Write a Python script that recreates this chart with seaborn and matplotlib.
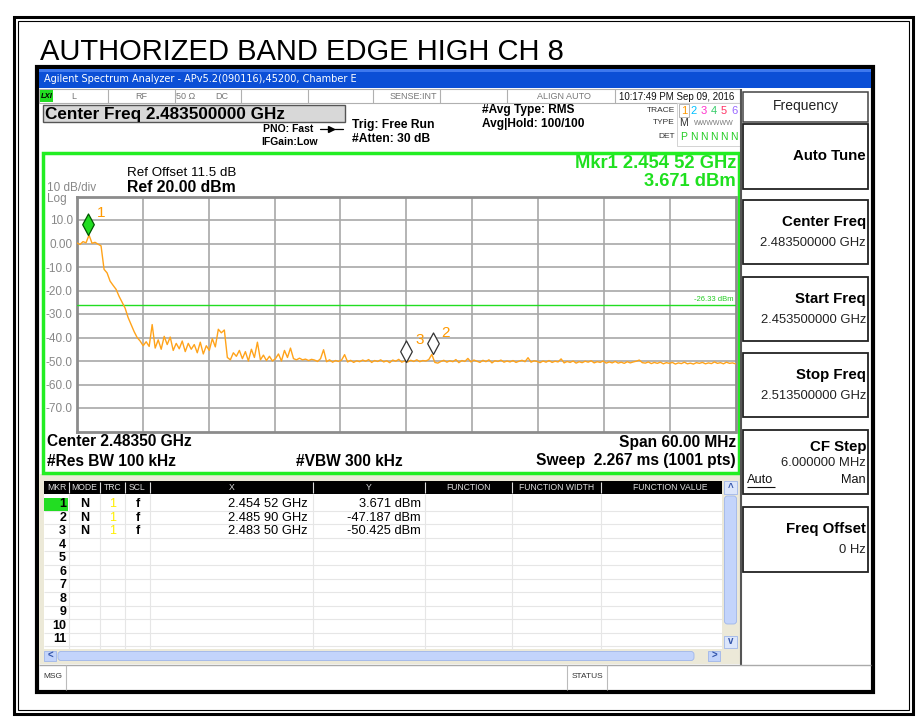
import numpy as np
import pandas as pd
import matplotlib
matplotlib.use("Agg")
import matplotlib.pyplot as plt
from matplotlib.path import Path
from matplotlib.patches import Rectangle, FancyBboxPatch
import seaborn as sns

# ---------------- DATA ----------------
title = "AUTHORIZED BAND EDGE HIGH CH 8"
start_ghz = 2.4535
stop_ghz = 2.5135
ref_level = 20.0
bottom_level = -80.0
threshold_dbm = -26.33
ytick_values = [10, 0, -10, -20, -30, -40, -50, -60, -70]
ytick_labels = ["10.0", "0.00", "-10.0", "-20.0", "-30.0", "-40.0", "-50.0", "-60.0", "-70.0"]

trace_levels = [
    0.2, -0.4, 0.8, 0.3, 3.6, 0.1, 0.5, -0.3, -1.0, -11.0,
    -12.5, -16.0, -17.8, -19.5, -22.5, -25.0, -27.5, -31.5, -34.5, -37.5,
    -40.0, -41.5, -43.5, -41.8, -43.8, -34.5, -44.5, -41.0, -45.0, -39.5,
    -43.0, -39.8, -45.5, -42.5, -44.8, -41.5, -46.0, -42.5, -45.0, -43.0,
    -46.5, -42.0, -47.0, -43.5, -45.5, -40.5, -44.0, -36.5, -38.0, -36.8,
    -48.5, -49.5, -46.5, -48.0, -45.5, -49.0, -46.0, -50.0, -45.0, -48.5,
    -42.0, -49.5, -47.5, -49.8, -48.0, -50.0, -49.0, -47.0, -50.0, -45.5,
    -48.5, -44.5, -49.0, -49.5, -48.8, -49.5, -49.2, -49.8, -49.3, -49.6,
    -50.2, -49.0, -45.2, -50.3, -49.5, -50.5, -49.8, -50.2, -49.6, -47.3,
    -50.4, -49.7, -50.6, -49.9, -50.3, -49.6, -50.1, -49.4, -50.6, -49.8,
    -50.2, -49.5, -50.4, -49.9, -50.7, -49.6, -50.1, -49.3, -50.5, -50.0,
    -50.4, -49.7, -50.2, -49.5, -50.3, -49.8, -50.0, -49.4, -47.2, -50.6,
    -50.9, -50.2, -49.7, -50.5, -49.9, -50.3, -49.4, -50.7, -49.8, -50.2,
    -48.9, -50.4, -49.6, -50.1, -50.6, -49.7, -50.3, -49.5, -50.8, -49.9,
    -50.2, -49.6, -50.5, -50.0, -50.4, -49.8, -50.6, -50.1, -49.7, -50.3,
    -48.6, -50.5, -49.9, -50.2, -50.7, -50.0, -50.5, -49.8, -50.6, -50.1,
    -50.4, -49.1, -50.8, -50.2, -50.6, -50.0, -50.9, -50.3, -50.7, -50.1,
    -50.5, -49.9, -50.8, -50.3, -50.6, -50.0, -50.9, -50.4, -50.8, -50.2,
    -50.9, -50.5, -51.0, -50.3, -50.8, -50.4, -50.1, -49.6, -50.7, -50.9,
    -50.4, -51.1, -50.6, -51.0, -50.5, -51.2, -50.7, -51.0, -50.6, -51.3,
    -50.8, -51.1, -50.5, -51.2, -50.9, -51.3, -50.7, -51.0, -50.6, -51.2,
    -50.8, -51.1, -50.4, -51.0, -50.7, -51.2, -50.5, -51.0, -50.8, -51.2,
]

marker_ids = [1, 2, 3]
marker_freqs = [2.45452, 2.48590, 2.48350]
marker_levels = [3.671, -47.187, -50.425]

table_headers = ["MKR", "MODE", "TRC", "SCL", "X", "Y", "FUNCTION", "FUNCTION WIDTH", "FUNCTION VALUE"]
softkeys = [("Center Freq", "2.483500000 GHz"),
            ("Start Freq", "2.453500000 GHz"),
            ("Stop Freq", "2.513500000 GHz")]

# ---------------- STYLE ----------------
sns.set_theme(style="white")
plt.rcParams['font.family'] = ['Liberation Sans', 'DejaVu Sans']

W, H = 923, 719
fig = plt.figure(figsize=(W / 100, H / 100), dpi=100)
fig.patch.set_facecolor("white")

ui = fig.add_axes([0, 0, 1, 1])
ui.set_xlim(0, W)
ui.set_ylim(H, 0)
ui.axis('off')


def rect(x0, y0, x1, y1, fc="none", ec="none", lw=1.0, z=1):
    ui.add_patch(Rectangle((x0, y0), x1 - x0, y1 - y0, facecolor=fc, edgecolor=ec, lw=lw, zorder=z))


def txt(x, y, s, size=8, ha="left", va="center", color="black", weight="normal", z=5, **kw):
    ui.text(x, y, s, fontsize=size, ha=ha, va=va, color=color, fontweight=weight, zorder=z, **kw)


def hline(x0, x1, y, color="#999999", lw=1.0, z=2):
    ui.plot([x0, x1], [y, y], color=color, lw=lw, zorder=z, solid_capstyle="butt")


def vline(x, y0, y1, color="#999999", lw=1.0, z=2):
    ui.plot([x, x], [y0, y1], color=color, lw=lw, zorder=z, solid_capstyle="butt")


# outer document borders
rect(14, 17, 913, 714, ec="black", lw=2.2)
rect(18, 21, 909, 710, ec="black", lw=0.8)

# title
txt(40, 60, title, size=21, va="baseline")

# window frame
rect(37, 67, 873, 692, fc="white", ec="black", lw=3, z=1)
rect(39, 69, 871, 88, fc="#0b4fd6", ec="none", z=2)
rect(39, 69, 871, 72, fc="#3d78ee", ec="none", z=2)
txt(44, 79, "Agilent Spectrum Analyzer - APv5.2(090116),45200, Chamber E", size=7,
    color="white", family=["DejaVu Sans"])

# status row
rect(39, 89, 740, 103, fc="white", ec="#b0b0b0", lw=0.8)
rect(40, 90, 53, 102, fc="#22dd22", ec="none", z=3)
txt(46.5, 96, "LXI", size=5.5, ha="center", weight="bold", style="italic")
for xs in [108, 175, 241, 308, 373, 440, 507, 615]:
    vline(xs, 89, 103, color="#b0b0b0", lw=0.8)
status_items = [(74, "L"), (141, "RF"), (186, "50 Ω"), (222, "DC"), (413, "SENSE:INT"), (564, "ALIGN AUTO")]
for xs, s in status_items:
    txt(xs, 96.5, s, size=6.5, ha="center", color="#777777")
txt(677, 96.5, "10:17:49 PM Sep 09, 2016", size=7, ha="center", color="#111111")

# center freq box
rect(43, 105, 345, 122, fc="#d8d8d8", ec="#555555", lw=1)
txt(45, 114, "Center Freq 2.483500000 GHz", size=12.3, weight="bold")
txt(313, 129.5, "PNO: Fast", size=7.5, ha="right", weight="bold")
ui.plot([320, 343], [129, 129], color="black", lw=0.9, zorder=4)
ui.plot([331], [129], marker=">", ms=4, color="black", zorder=4)
txt(318, 142, "IFGain:Low", size=7.5, ha="right", weight="bold")
txt(352, 125, "Trig: Free Run", size=8.7, weight="bold")
txt(352, 139, "#Atten: 30 dB", size=8.7, weight="bold")
txt(482, 110, "#Avg Type: RMS", size=8.6, weight="bold")
txt(482, 124, "Avg|Hold: 100/100", size=8.6, weight="bold")

# trace box
rect(677, 103, 740, 146, fc="white", ec="#cccccc", lw=0.6)
txt(675, 110, "TRACE", size=6, ha="right", color="#333333")
txt(675, 123, "TYPE", size=6, ha="right", color="#333333")
txt(675, 136.5, "DET", size=6, ha="right", color="#333333")
rect(679, 104, 689, 117, fc="none", ec="#aaaaaa", lw=0.6)
trace_cols = ["#ff9900", "#00c0ff", "#ff33cc", "#33cc66", "#ff3366", "#9966ff"]
for k, c in enumerate(trace_cols):
    txt(684 + 10 * k, 110.5, str(k + 1), size=8, ha="center", color=c)
txt(684, 123.5, "M", size=7.5, ha="center", color="#333333")
txt(714, 123.5, "WWWWWW", size=5, ha="center", color="#777777")
txt(684, 137, "P", size=7.5, ha="center", color="#22cc22")
for k in range(1, 6):
    txt(684 + 10 * k, 137, "N", size=7.5, ha="center", color="#22cc22")

# softkey panel
vline(741, 89, 665, color="#555555", lw=1.5)
rect(743, 92, 868, 122, fc="white", ec="#444444", lw=1.1)
txt(806, 106, "Frequency", size=10, ha="center", color="#222222")
rect(743, 124, 868, 189, fc="white", ec="#222222", lw=1.3)
txt(866, 156, "Auto Tune", size=10.8, ha="right", weight="bold")
sk_tops = [200, 277, 353]
for (lab, val), y0 in zip(softkeys, sk_tops):
    rect(743, y0, 868, y0 + 64, fc="white", ec="#222222", lw=1.3)
    txt(866, y0 + 22, lab, size=10.8, ha="right", weight="bold")
    txt(866, y0 + 43, val, size=9.4, ha="right", color="#222222")
rect(743, 430, 868, 494, fc="white", ec="#222222", lw=1.3)
txt(866, 447, "CF Step", size=10.8, ha="right", weight="bold")
txt(866, 463.5, "6.000000 MHz", size=9.4, ha="right", color="#222222")
txt(747, 480, "Auto", size=9.2, ha="left", color="#111111")
hline(747, 775, 486.5, color="#111111", lw=0.8, z=6)
txt(866, 480, "Man", size=9.2, ha="right", color="#111111")
rect(743, 507, 868, 572, fc="white", ec="#222222", lw=1.3)
txt(866, 529, "Freq Offset", size=10.8, ha="right", weight="bold")
txt(866, 550, "0 Hz", size=9.4, ha="right", color="#222222")

# graph frame
rect(43, 153, 739, 473, fc="white", ec="#22ee22", lw=2.5, z=1.5)
txt(127, 173, "Ref Offset 11.5 dB", size=9.6)
txt(127, 187, "Ref 20.00 dBm", size=11.3, weight="bold")
txt(47, 188, "10 dB/div", size=8.5, color="#888888")
txt(47, 199, "Log", size=8.5, color="#888888")
txt(736, 163, "Mkr1 2.454 52 GHz", size=13.2, ha="right", weight="bold", color="#1fe01f")
txt(736, 182, "3.671 dBm", size=13.2, ha="right", weight="bold", color="#1fe01f")
txt(47, 442, "Center 2.48350 GHz", size=11.2, weight="bold")
txt(47, 461, "#Res BW 100 kHz", size=11.2, weight="bold")
txt(296, 461, "#VBW 300 kHz", size=11.2, weight="bold")
txt(736, 442, "Span 60.00 MHz", size=11.2, ha="right", weight="bold")
txt(736, 461, "Sweep  2.267 ms (1001 pts)", size=11.2, ha="right", weight="bold")

# table area
rect(39, 474, 740, 664, fc="#ece9d8", ec="none", z=1.2)
rect(44, 481, 722, 649, fc="white", ec="none", z=1.3)
rect(44, 481, 722, 494, fc="black", ec="none", z=2)
col_edges = [44, 69, 100, 125, 150, 313, 425, 512, 601, 722]
for xe in col_edges[1:-1]:
    vline(xe, 482, 493, color="#dddddd", lw=0.8, z=3)
    vline(xe, 494, 649, color="#e6e6e6", lw=0.8, z=2)
for k, hname in enumerate(table_headers):
    cx = (col_edges[k] + col_edges[k + 1]) / 2
    if hname == "FUNCTION VALUE":
        cx = 670
    txt(cx, 488, hname, size=6.2, ha="center", color="#dddddd")
row_y = [504 + 13.55 * k for k in range(11)]
for yc in row_y:
    hline(44, 722, yc + 6.8, color="#e6e6e6", lw=0.8)
rect(44, 497.5, 68, 510.5, fc="#22dd22", ec="none", z=2.5)
for k, yc in enumerate(row_y):
    txt(66, yc, str(k + 1), size=9, ha="right", weight="bold")
for mid, f, lv in zip(marker_ids, marker_freqs, marker_levels):
    yc = row_y[mid - 1]
    fs = f"{f:.5f}"
    fs = fs[:5] + " " + fs[5:]
    txt(85, yc, "N", size=9, ha="center", weight="bold")
    txt(113, yc, "1", size=9, ha="center", color="#ffee00")
    txt(138, yc, "f", size=9, ha="center", weight="bold")
    txt(308, yc, fs + " GHz", size=9.3, ha="right")
    txt(421, yc, f"{lv:.3f} dBm", size=9.3, ha="right")
# scrollbars
ui.add_patch(FancyBboxPatch((58, 651.5), 636, 9, boxstyle="round,pad=0,rounding_size=3",
                            facecolor="#c3d4fb", edgecolor="#9fb6ea", lw=0.6, zorder=3))
rect(44, 651, 56, 661, fc="#c3d4fb", ec="#9fb6ea", lw=0.6, z=3)
txt(50, 656, "<", size=7, ha="center", color="#3355aa", weight="bold")
rect(708, 651, 720, 661, fc="#c3d4fb", ec="#9fb6ea", lw=0.6, z=3)
txt(714, 656, ">", size=7, ha="center", color="#3355aa", weight="bold")
rect(724, 481, 737, 494, fc="#dce6fb", ec="#9fb6ea", lw=0.6, z=3)
txt(730.5, 488, "^", size=7, ha="center", color="#3355aa", weight="bold")
ui.add_patch(FancyBboxPatch((724.5, 496), 12, 128, boxstyle="round,pad=0,rounding_size=3",
                            facecolor="#c3d4fb", edgecolor="#9fb6ea", lw=0.6, zorder=3))
rect(724, 636, 737, 648, fc="#dce6fb", ec="#9fb6ea", lw=0.6, z=3)
txt(730.5, 641, "v", size=7, ha="center", color="#3355aa", weight="bold")

# message row
hline(39, 871, 665, color="#aaaaaa", lw=1)
vline(66, 665, 690, color="#bbbbbb", lw=0.8)
vline(567, 665, 690, color="#bbbbbb", lw=0.8)
vline(607, 665, 690, color="#bbbbbb", lw=0.8)
txt(43, 677, "MSG", size=6, color="#333333")
txt(587, 677, "STATUS", size=6, ha="center", color="#333333")

# ---------------- SPECTRUM PLOT ----------------
x0p, x1p, y0p, y1p = 77, 735.5, 196.5, 431.5
ax = fig.add_axes([x0p / W, 1 - y1p / H, (x1p - x0p) / W, (y1p - y0p) / H])
ax.set_facecolor("white")
ax.set_zorder(5)

freqs = np.linspace(start_ghz, stop_ghz, len(trace_levels))
df = pd.DataFrame({"freq": freqs, "level": trace_levels})
sns.lineplot(data=df, x="freq", y="level", ax=ax, color="#ffa31a", lw=1.0, zorder=4)

ax.set_xlim(start_ghz, stop_ghz)
ax.set_ylim(bottom_level, ref_level)
ax.set_xticks(np.linspace(start_ghz, stop_ghz, 11)[1:-1])
ax.set_xticklabels([])
ax.set_yticks(ytick_values)
ax.set_yticklabels(ytick_labels)
ax.tick_params(length=0, pad=3, labelsize=8.5, labelcolor="#888888")
ax.grid(True, color="#a8a8a8", lw=1.2)
ax.set_xlabel("")
ax.set_ylabel("")
for sp in ax.spines.values():
    sp.set_color("#8c8c8c")
    sp.set_linewidth(2)

ax.axhline(threshold_dbm, color="#22dd22", lw=1.0, zorder=3)
ax.text(0.997, threshold_dbm + 1.2, f"{threshold_dbm:.2f} dBm", transform=ax.get_yaxis_transform(),
        ha="right", va="bottom", fontsize=5.5, color="#22cc22")

diamond = Path([(0, 0), (0.27, 0.5), (0, 1), (-0.27, 0.5), (0, 0)],
               [Path.MOVETO, Path.LINETO, Path.LINETO, Path.LINETO, Path.CLOSEPOLY])
for mid, f, lv in zip(marker_ids, marker_freqs, marker_levels):
    if mid == 1:
        fc, ec = "#22dd22", "#005500"
    else:
        fc, ec = "white", "#333333"
    ax.plot([f], [lv], marker=diamond, ms=31, mfc=fc, mec=ec, mew=0.9, ls="none", zorder=6)
    ax.annotate(str(mid), (f, lv), xytext=(6.5, 15.5), textcoords="offset points",
                fontsize=11, color="#ff9900", ha="left", va="center", zorder=7)

fig.savefig("out.png", dpi=100)
